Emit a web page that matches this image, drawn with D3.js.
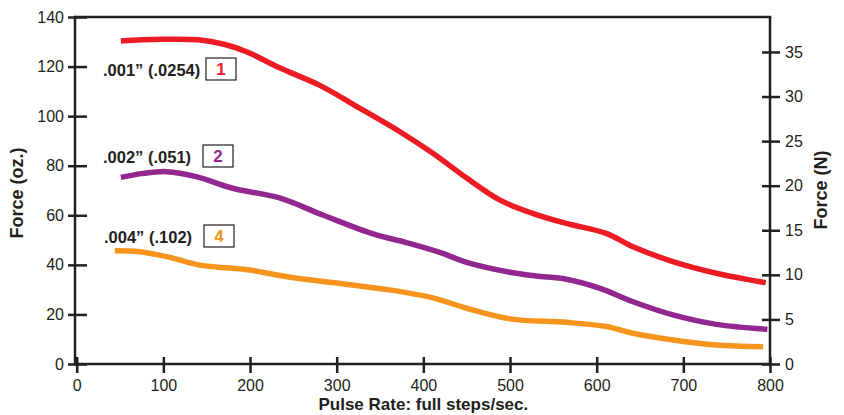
<!DOCTYPE html>
<html>
<head>
<meta charset="utf-8">
<script src="https://cdn.jsdelivr.net/npm/d3@7"></script>
<style>
  html, body { margin: 0; padding: 0; background: #fff; }
  svg { display: block; }
  text { font-family: "Liberation Sans", Arial, Helvetica, sans-serif; fill: #231f20; }
</style>
</head>
<body>
<svg id="chart" width="844" height="415"></svg>
<script>
// ---- Data ----
const xTicks = [0, 100, 200, 300, 400, 500, 600, 700, 800];
const yTicksOz = [0, 20, 40, 60, 80, 100, 120, 140];
const yTicksN = [0, 5, 10, 15, 20, 25, 30, 35];

const rateRed = [51, 75, 100, 140, 170, 196, 234, 280, 330, 373, 411, 450, 488, 526, 565, 611, 642, 688, 738, 795];
const forceRed = [130.3, 130.8, 131, 130.8, 129, 126, 119.5, 112.5, 102.5, 93.7, 85, 75, 66.2, 60.8, 56.7, 52.7, 47.3, 41.3, 36.6, 32.8];

const ratePurple = [51, 75, 104, 138, 180, 234, 284, 342, 380, 419, 450, 500, 530, 565, 604, 642, 688, 738, 797];
const forcePurple = [75.3, 76.8, 77.6, 75.6, 70.9, 67, 60.1, 52.5, 49, 45, 41, 37, 35.5, 34.2, 30.5, 25.1, 19.8, 16, 14];

const rateOrange = [44, 73, 104, 142, 173, 200, 246, 304, 361, 411, 450, 500, 565, 611, 642, 688, 738, 792];
const forceOrange = [45.7, 45.3, 43.3, 39.9, 38.8, 37.9, 35, 32.5, 29.9, 26.7, 22.5, 18.2, 16.8, 15.1, 12.4, 9.7, 7.7, 7.0];

const seriesLabels = ['.001\u201D (.0254)', '.002\u201D (.051)', '.004\u201D (.102)'];
const seriesNumbers = ['1', '2', '4'];
const colors = ['#ed1c24', '#92278f', '#f7941d'];

const OZ_TO_N = 0.278014;

// ---- Layout ----
const svg = d3.select('#chart');
const ink = '#231f20';
const mLeft = 75, mRight = 770, mTop = 17, mBottom = 364;

const x = d3.scaleLinear().domain([0, 800]).range([76.7, 770]);
const y = d3.scaleLinear().domain([0, 140]).range([mBottom, mTop]);
const yN = d3.scaleLinear().domain([0, 140 * OZ_TO_N]).range([mBottom, mTop]);

// ---- Lines ----
const series = [
  { xs: rateRed, ys: forceRed },
  { xs: ratePurple, ys: forcePurple },
  { xs: rateOrange, ys: forceOrange }
];
const line = d3.line()
  .x(d => x(d[0])).y(d => y(d[1]))
  .curve(d3.curveCatmullRom.alpha(0.5));

svg.append('g').selectAll('path')
  .data(series)
  .join('path')
  .attr('d', s => line(s.xs.map((v, i) => [v, s.ys[i]])))
  .attr('fill', 'none')
  .attr('stroke', (s, i) => colors[i])
  .attr('stroke-width', 5.5)
  .attr('stroke-linecap', 'butt')
  .attr('stroke-linejoin', 'round');

// ---- Frame ----
const frame = svg.append('g').attr('stroke', ink).attr('stroke-width', 2.5).attr('fill', 'none');
frame.append('line').attr('x1', mLeft).attr('x2', mLeft).attr('y1', mTop - 1.25).attr('y2', mBottom + 1.25);
frame.append('line').attr('x1', mLeft).attr('x2', mRight + 1.25).attr('y1', mTop).attr('y2', mTop);
frame.append('line').attr('x1', mRight).attr('x2', mRight).attr('y1', mTop).attr('y2', mBottom + 1.25);
frame.append('line').attr('x1', mLeft).attr('x2', mRight + 1.25).attr('y1', mBottom).attr('y2', mBottom);

// ---- Axes ----
function styleAxis(g) {
  g.select('.domain').remove();
  g.selectAll('.tick line').attr('stroke', ink).attr('stroke-width', 2.5);
  g.selectAll('.tick text').attr('fill', ink)
    .style('font-size', '16px')
    .style('font-family', '"Liberation Sans", Arial, Helvetica, sans-serif');
}

const gLeft = svg.append('g').attr('transform', `translate(${mLeft},0)`)
  .call(d3.axisLeft(y).tickValues(yTicksOz).tickFormat(d3.format('d')));
styleAxis(gLeft);
gLeft.selectAll('.tick line').attr('x1', -7).attr('x2', 12);
gLeft.selectAll('.tick text').attr('x', -11);

const gBottom = svg.append('g').attr('transform', `translate(0,${mBottom})`)
  .call(d3.axisBottom(x).tickValues(xTicks).tickFormat(d3.format('d')));
styleAxis(gBottom);
gBottom.selectAll('.tick line').attr('y1', -7).attr('y2', 9);
gBottom.selectAll('.tick text').attr('y', 15.5);

const gRight = svg.append('g').attr('transform', `translate(${mRight},0)`)
  .call(d3.axisRight(yN).tickValues(yTicksN).tickFormat(d3.format('d')));
styleAxis(gRight);
gRight.selectAll('.tick line').attr('x1', -8).attr('x2', 10);
gRight.selectAll('.tick text').attr('x', 15);

// ---- Axis titles ----
svg.append('text')
  .attr('transform', 'translate(23,193) rotate(-90)')
  .attr('text-anchor', 'middle')
  .style('font-size', '18px').style('font-weight', 'bold')
  .text('Force (oz.)');

svg.append('text')
  .attr('transform', 'translate(827,190) rotate(-90)')
  .attr('text-anchor', 'middle')
  .style('font-size', '18px').style('font-weight', 'bold')
  .text('Force (N)');

svg.append('text')
  .attr('x', (76.7 + 770) / 2).attr('y', 409.5)
  .attr('text-anchor', 'middle')
  .style('font-size', '17px').style('font-weight', 'bold')
  .text('Pulse Rate: full steps/sec.');

// ---- Series labels ----
const labelX = [103, 103, 104];
const labelBase = [76, 163, 243];
const boxX = [206, 203, 204];
seriesLabels.forEach((lab, i) => {
  const g = svg.append('g');
  g.append('text')
    .attr('x', labelX[i]).attr('y', labelBase[i])
    .style('font-size', '16.5px').style('font-weight', 'bold')
    .text(lab);
  g.append('rect')
    .attr('x', boxX[i]).attr('y', labelBase[i] - 18)
    .attr('width', 30).attr('height', 22)
    .attr('fill', '#fff').attr('stroke', ink).attr('stroke-width', 1.2);
  g.append('text')
    .attr('x', boxX[i] + 15).attr('y', labelBase[i] - 1)
    .attr('text-anchor', 'middle')
    .style('font-size', '17px').style('font-weight', 'bold')
    .style('fill', colors[i])
    .text(seriesNumbers[i]);
});
</script>
</body>
</html>
